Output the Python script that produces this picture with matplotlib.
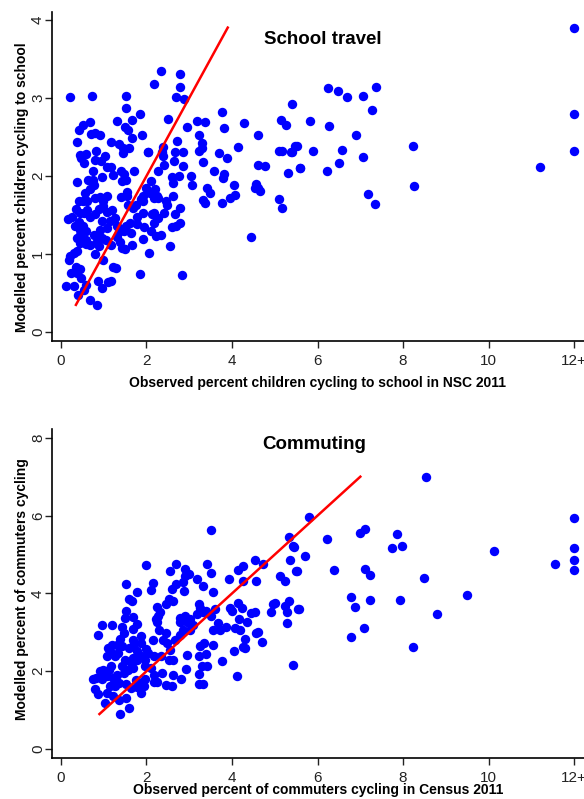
import matplotlib
matplotlib.use("Agg")
import matplotlib.pyplot as plt

plt.rcParams['font.family'] = ['Liberation Sans', 'DejaVu Sans']

# School travel: observed % (NSC 2011) vs modelled %
school_obs = [
    0.22, 0.73, 2.34, 2.17, 2.78, 2.79, 2.68, 2.88, 1.52, 1.52, 0.68, 0.52, 1.32, 1.65,
    1.85, 2.51, 2.94, 3.18, 3.36, 3.77, 3.81, 4.28, 0.43, 0.37, 0.70, 0.80, 0.91, 1.49,
    1.56, 1.65, 1.90, 3.23, 3.29, 3.30, 3.22, 1.18, 1.35, 1.44, 1.59, 1.46, 2.04, 2.39,
    2.37, 2.38, 2.66, 2.71, 2.85, 2.42, 2.64, 2.86, 3.32, 3.88, 3.69, 4.14, 4.60, 4.60,
    0.45, 0.48, 0.58, 0.54, 0.79, 0.83, 1.04, 0.93, 0.38, 0.74, 0.74, 0.63, 0.96, 1.08,
    1.18, 1.21, 1.40, 1.48, 1.52, 1.71, 1.43, 2.03, 2.28, 3.04, 3.07, 2.76, 2.59, 3.57,
    3.81, 3.78, 4.05, 4.07, 3.95, 3.76, 3.33, 3.37, 3.42, 3.49, 4.56, 4.61, 4.65, 4.54,
    4.78, 5.10, 5.16, 5.31, 4.45, 5.53, 5.40, 5.17, 5.10, 5.26, 5.15, 5.40, 5.58,
    0.12, 0.24, 0.37, 0.44, 0.36, 0.48, 0.30, 0.41, 0.58, 0.55, 0.69, 0.85, 0.96, 0.87,
    1.11, 1.16, 1.21, 1.29, 1.85, 2.84, 2.05, 2.55, 0.99, 0.79, 0.19, 0.22, 0.30, 0.38,
    0.44, 0.38, 0.44, 0.48, 0.58, 0.68, 0.58, 0.83, 0.90, 0.78, 0.86, 0.95, 1.05, 0.91,
    0.97, 1.07, 1.15, 1.20, 1.27, 1.32, 1.38, 1.47, 1.53, 1.62, 1.39, 1.49, 1.65, 1.42,
    1.18, 1.30, 1.63, 1.77, 1.78, 1.91, 1.94, 1.93, 2.10, 2.17, 2.22, 2.28, 2.12, 2.17,
    2.35, 2.41, 2.46, 2.49, 2.66, 2.70, 2.78, 2.79, 2.60, 2.62, 2.62, 1.92, 1.86, 1.91,
    2.08, 2.00, 2.10, 2.19, 2.24, 2.17, 2.28, 1.75, 1.68, 1.57, 1.54, 1.55, 1.40, 1.08,
    0.99, 0.91, 0.79, 0.77, 0.68, 0.56, 0.61, 0.51, 0.43, 0.35, 0.45, 0.53, 0.62, 0.68,
    0.80, 0.90, 0.99, 1.07, 0.25, 0.17, 0.43, 0.33, 0.51, 0.45, 0.58,
    12.0, 6.25, 6.47, 6.69, 7.06, 7.36, 7.28, 5.82, 6.27, 6.89, 5.47, 5.37, 5.90, 6.58,
    8.23, 12.0, 12.0, 7.06, 6.50, 5.60, 6.21, 11.20, 8.26, 7.18, 7.34,
]
school_mod = [
    3.01, 3.02, 3.34, 3.18, 3.31, 3.14, 3.01, 2.99, 3.02, 2.87, 2.69, 2.65, 2.70, 2.72,
    2.79, 2.73, 2.63, 2.70, 2.69, 2.82, 2.61, 2.68, 2.59, 2.43, 2.54, 2.55, 2.52, 2.63,
    2.59, 2.49, 2.53, 2.52, 2.42, 2.36, 2.32, 2.43, 2.41, 2.36, 2.36, 2.30, 2.31, 2.37,
    2.31, 2.25, 2.31, 2.45, 2.31, 2.14, 2.19, 2.13, 2.18, 2.23, 2.29, 2.37, 2.14, 2.52,
    2.27, 2.23, 2.28, 2.17, 2.21, 2.32, 2.25, 2.19, 1.92, 2.06, 1.95, 1.95, 1.99, 2.11,
    2.11, 2.01, 2.07, 2.03, 1.95, 2.07, 1.93, 2.31, 2.07, 2.00, 1.89, 2.00, 1.99, 2.07,
    2.03, 1.97, 1.89, 1.76, 1.72, 1.66, 1.69, 1.66, 1.84, 1.78, 1.90, 1.85, 1.81, 1.85,
    2.13, 1.71, 1.59, 2.04, 1.22, 2.39, 2.31, 2.32, 2.32, 2.65, 2.72, 2.92, 2.10,
    0.59, 0.76, 0.76, 0.81, 0.84, 0.69, 0.59, 0.47, 0.61, 0.54, 0.41, 0.35, 0.56, 0.66,
    0.64, 0.65, 0.84, 0.82, 0.74, 0.73, 1.01, 1.10, 0.92, 1.00, 0.93, 0.97, 1.01, 1.04,
    1.14, 1.21, 1.25, 1.31, 1.18, 1.12, 1.13, 1.14, 1.10, 1.25, 1.23, 1.21, 1.18, 1.31,
    1.42, 1.33, 1.42, 1.57, 1.46, 1.36, 1.29, 1.30, 1.36, 1.40, 1.16, 1.06, 1.12, 1.08,
    1.12, 1.22, 1.27, 1.39, 1.48, 1.53, 1.35, 1.19, 1.30, 1.40, 1.23, 1.46, 1.51, 1.53,
    1.25, 1.53, 1.68, 1.63, 1.51, 1.36, 1.40, 1.59, 1.35, 1.75, 1.91, 1.68, 1.71, 1.74,
    1.78, 1.85, 1.93, 1.83, 1.74, 1.72, 1.72, 1.63, 1.59, 1.63, 1.74, 1.79, 1.73, 1.75,
    1.68, 1.73, 1.72, 1.89, 1.83, 1.78, 1.68, 1.68, 1.68, 1.58, 1.53, 1.53, 1.57, 1.48,
    1.51, 1.58, 1.61, 1.54, 1.48, 1.45, 1.41, 1.36, 1.36, 1.31, 1.30,
    3.89, 3.13, 3.09, 3.01, 3.02, 3.14, 2.85, 2.70, 2.64, 2.52, 2.38, 2.31, 2.32, 2.33,
    2.38, 2.79, 2.32, 2.24, 2.16, 2.10, 2.07, 2.11, 1.87, 1.77, 1.64,
]

# Commuting: observed % (Census 2011) vs modelled %
commute_obs = [
    1.99, 2.70, 2.90, 2.55, 3.50, 3.42, 3.50, 1.53, 2.16, 2.11, 1.77, 2.68, 2.86, 2.90,
    3.00, 3.17, 3.31, 2.59, 2.87, 3.55, 3.92, 4.15, 4.26, 4.25, 4.54, 4.57, 4.73, 1.60,
    1.67, 2.53, 2.62, 2.45, 2.25, 2.31, 2.23, 2.26, 2.24, 1.53, 1.50, 1.69, 1.77, 1.68,
    1.20, 0.97, 0.86, 1.42, 1.47, 1.38, 1.32, 1.20, 1.42, 1.58, 1.69, 1.68, 1.88, 1.86,
    1.78, 2.00, 2.16, 2.17, 2.33, 2.39, 2.45, 2.47, 2.55, 2.63, 2.53, 2.30, 2.66, 2.78,
    2.86, 2.78, 2.78, 2.90, 2.94, 3.01, 3.09, 3.01, 3.17, 3.25, 3.22, 3.31, 3.40, 3.50,
    3.60, 3.56, 3.71, 3.68, 3.87, 3.96, 3.99, 4.14, 4.23, 4.17, 4.07, 4.18, 4.34, 4.44,
    4.53, 4.61, 4.57, 4.69, 4.91, 4.96, 5.01, 5.12, 5.23, 5.24, 5.29, 5.33, 5.29, 5.35,
    5.43, 5.34, 5.43, 5.55, 5.50, 3.56, 3.76, 4.04, 4.25, 4.30, 4.31, 4.12, 3.29, 3.22,
    3.22, 3.25, 3.34, 3.40, 3.42, 3.23, 3.32, 2.94, 2.92, 2.80, 2.61, 2.60, 2.45, 2.37,
    2.25, 2.17, 2.17, 2.10, 1.96, 1.97, 1.94, 1.88, 1.85, 1.75, 1.77, 1.63, 1.52, 1.52,
    1.58, 1.38, 1.35, 1.22, 1.04, 1.07, 0.87, 0.79, 0.76, 0.91, 0.96, 1.07, 1.13, 1.21,
    1.30, 1.35, 1.26, 1.15, 1.18, 1.42, 1.50, 1.47, 1.57, 1.69, 1.63, 1.69, 1.77, 1.88,
    1.96, 2.04, 1.15, 1.07, 1.11, 1.26, 1.34, 0.99, 0.83,
    8.53, 5.80, 12.0, 7.10, 6.99, 7.86, 6.21, 7.75, 7.98, 5.44, 5.70, 10.12, 12.0, 12.0,
    12.0, 11.56, 5.52, 6.39, 7.11, 7.22, 8.48, 6.79, 6.88, 7.22, 7.92, 9.50, 8.79, 5.56,
    7.09, 6.79, 8.22,
]
commute_mod = [
    4.73, 4.76, 4.63, 4.57, 5.63, 4.76, 4.53, 4.25, 4.27, 4.08, 4.03, 4.25, 4.29, 4.44,
    4.51, 4.36, 4.19, 4.11, 4.06, 4.03, 4.37, 4.59, 4.70, 4.31, 4.87, 4.31, 4.75, 3.86,
    3.80, 3.86, 3.80, 3.74, 3.65, 3.53, 3.34, 3.42, 3.27, 3.54, 3.37, 3.40, 3.22, 3.09,
    3.18, 3.20, 2.92, 3.13, 2.97, 2.83, 2.68, 2.68, 2.64, 2.60, 2.64, 2.80, 2.90, 2.73,
    2.51, 2.56, 2.81, 2.38, 2.38, 2.81, 2.98, 2.73, 2.54, 2.30, 2.30, 3.07, 2.81, 2.94,
    3.07, 3.26, 3.37, 3.41, 3.26, 3.33, 3.20, 3.07, 3.46, 3.63, 3.74, 3.52, 3.56, 3.43,
    3.59, 3.07, 3.07, 3.24, 3.13, 3.63, 3.54, 3.76, 3.63, 3.33, 3.11, 3.07, 3.26, 3.50,
    3.53, 3.01, 2.98, 2.74, 3.53, 3.74, 3.76, 4.44, 4.31, 3.67, 3.53, 3.80, 3.24, 4.87,
    5.21, 5.45, 2.15, 3.60, 4.57, 2.67, 2.26, 2.51, 2.62, 2.59, 2.83, 1.89, 2.13, 1.94,
    2.38, 2.64, 2.73, 2.45, 2.13, 1.68, 1.68, 2.43, 2.06, 1.80, 1.91, 1.63, 1.64, 1.96,
    1.72, 1.72, 1.91, 2.08, 2.13, 1.80, 1.61, 1.44, 1.66, 1.78, 1.60, 1.57, 1.66, 1.31,
    1.05, 0.91, 1.27, 1.36, 1.18, 1.44, 1.42, 1.54, 1.81, 2.00, 1.80, 1.87, 2.02, 1.83,
    1.91, 1.70, 1.63, 1.61, 2.13, 2.13, 2.30, 1.96, 2.02, 2.08, 2.21, 2.34, 2.30, 2.38,
    2.30, 2.47, 2.51, 2.38, 2.60, 2.38, 2.47, 2.04, 1.83,
    6.99, 5.96, 5.94, 5.66, 5.55, 5.53, 5.40, 5.17, 5.23, 5.19, 4.97, 5.09, 5.18, 4.85,
    4.59, 4.75, 4.57, 4.61, 4.64, 4.48, 4.40, 3.92, 3.64, 3.83, 3.83, 3.97, 3.47, 3.61,
    3.10, 2.87, 2.62,
]

x_ticks = [0, 2, 4, 6, 8, 10, 12]
x_tick_labels = ['0', '2', '4', '6', '8', '10', '12+']

school_line = [0.35, 3.9]
commute_line = [0.9, 7.0]

fig = plt.figure(figsize=(5.84, 7.99), dpi=100)


def panel(rect, xs, ys, line, yticks, ylim, ylabel, ylab_y, xlabel, xpad, title, title_pos):
    ax = fig.add_axes(rect)
    ax.scatter(xs, ys, s=46, color='#0000ff', linewidths=0, zorder=2)
    ax.plot(line, line, color='red', lw=1.8, zorder=3)
    ax.set_xlim(-0.21, 12.23)
    ax.set_ylim(*ylim)
    ax.set_xticks(x_ticks)
    ax.set_xticklabels(x_tick_labels)
    ax.set_yticks(yticks)
    ax.set_yticklabels([str(t) for t in yticks], rotation=90, va='center')
    for side in ('top', 'right'):
        ax.spines[side].set_visible(False)
    for side in ('left', 'bottom'):
        ax.spines[side].set_linewidth(1.2)
    ax.tick_params(direction='out', length=5, width=1, labelsize=11, colors='#222222')
    ax.tick_params(axis='y', pad=0)
    ax.tick_params(axis='x', pad=4)
    ax.set_xlabel(xlabel, fontsize=10, fontweight='bold', labelpad=xpad)
    ax.set_ylabel(ylabel, fontsize=10, fontweight='bold')
    ax.yaxis.set_label_coords(-0.043, ylab_y)
    ax.text(title_pos[0], title_pos[1], title, transform=ax.transAxes,
            fontsize=13.5, fontweight='bold', ha='center', va='center')
    return ax


panel([0.089, 0.573, 0.911, 0.412], school_obs, school_mod, school_line,
      [0, 1, 2, 3, 4], (-0.115, 4.10),
      'Modelled percent children cycling to school', 0.467,
      'Observed percent children cycling to school in NSC 2011', 6,
      'School travel', (0.509, 0.915))

panel([0.089, 0.0513, 0.911, 0.412], commute_obs, commute_mod, commute_line,
      [0, 2, 4, 6, 8], (-0.23, 8.23),
      'Modelled percent of commuters cycling', 0.512,
      'Observed percent of commuters cycling in Census 2011', -1,
      'Commuting', (0.493, 0.951))

fig.savefig('out.png', dpi=100)
